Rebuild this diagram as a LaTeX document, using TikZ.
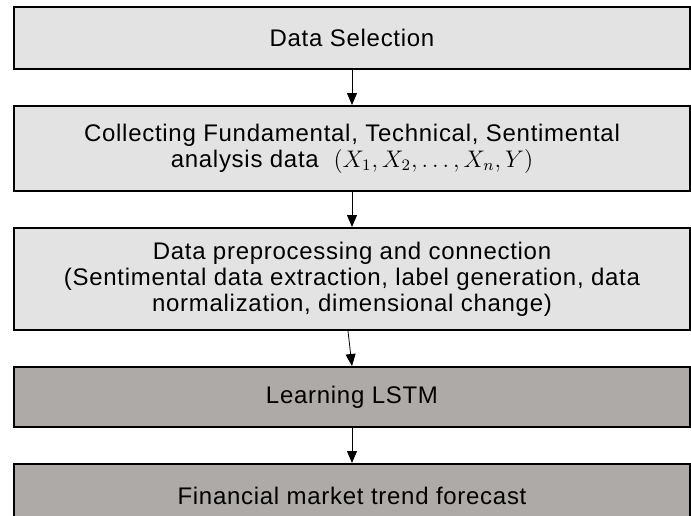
\documentclass[tikz,border=0pt]{standalone}
\usepackage{amsmath}
\usepackage{fontspec}
\setmainfont{Liberation Sans}[LetterSpace=3]
\usetikzlibrary{positioning,arrows.meta}

\definecolor{lightbox}{RGB}{227,227,227}
\definecolor{darkbox}{RGB}{174,170,167}

\begin{document}
\begin{tikzpicture}
        [->,>={Triangle[length=6pt,width=5pt]},
        node distance=17.5pt,
        b/.style={draw,line width=1pt,fill=lightbox,minimum width=338pt,inner sep=0pt,
            text centered,align=center,font=\fontsize{12}{13}\selectfont},
        d/.style={b,fill=darkbox}]
        \useasboundingbox (0,0) rectangle (345.5pt,-257.5pt);
        \node[b,anchor=north west,minimum height=31pt] (sel) at (6.5pt,-3pt) {Data Selection};
        \node[b,minimum height=42.5pt,below=of sel] (coll)
            {Collecting Fundamental, Technical, Sentimental\\
             analysis data~~$(X_1,X_2,\dots,X_n,Y)$};
        \node[b,minimum height=51pt,below=of coll] (prep)
            {Data preprocessing and connection\\
             (Sentimental data extraction, label generation, data\\
             normalization, dimensional change)};
        \node[d,minimum height=30pt,below=of prep] (lstm) {Learning LSTM};
        \node[d,minimum height=32pt,below=of lstm] (fcst) {Financial market trend forecast};
        \draw (sel) -- (coll);
        \draw (coll) -- (prep);
        \draw ([xshift=-2pt]prep.south) -- (lstm.north);
        \draw (lstm) -- (fcst);
    \end{tikzpicture}
\end{document}
